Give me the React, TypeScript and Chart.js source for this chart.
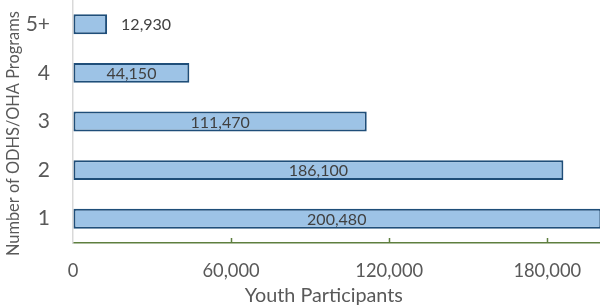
import React, { useEffect, useRef } from "react";
import { Chart, registerables } from "chart.js";

Chart.register(...registerables);

const categories = ["5+", "4", "3", "2", "1"];
const participants = [12930, 44150, 111470, 186100, 200480];
const xTickValues = [0, 60000, 120000, 180000];
const xTitle = "Youth Participants";
const yTitle = "Number of ODHS/OHA Programs";

const FONT = "Lato, 'Open Sans', sans-serif";

const barLabelPlugin = {
  id: "barLabels",
  afterDatasetsDraw(chart: any) {
    const ctx = chart.ctx;
    const meta = chart.getDatasetMeta(0);
    const area = chart.chartArea;
    ctx.save();
    ctx.font = `16px ${FONT}`;
    ctx.fillStyle = "#404040";
    ctx.textBaseline = "middle";
    meta.data.forEach((bar: any, i: number) => {
      const v = participants[i];
      const text = v.toLocaleString("en-US");
      const w = ctx.measureText(text).width;
      const left = bar.base;
      const right = Math.min(bar.x, area.right);
      const width = right - left;
      if (w + 10 < width) {
        ctx.textAlign = "center";
        ctx.fillText(text, (left + right) / 2, bar.y + 1);
      } else {
        ctx.textAlign = "left";
        ctx.fillText(text, right + 14, bar.y + 1);
      }
    });
    ctx.restore();
  },
};

const axisDecorPlugin = {
  id: "axisDecor",
  afterDraw(chart: any) {
    const ctx = chart.ctx;
    const x = chart.scales.x;
    const area = chart.chartArea;
    ctx.save();
    // inner tick marks on x axis
    ctx.strokeStyle = "#5E7F3F";
    ctx.lineWidth = 1.5;
    x.ticks.forEach((t: any) => {
      if (t.value === 0) return;
      const px = Math.round(x.getPixelForValue(t.value)) + 0.5;
      ctx.beginPath();
      ctx.moveTo(px, area.bottom);
      ctx.lineTo(px, area.bottom - 5);
      ctx.stroke();
    });
    // axis titles
    ctx.fillStyle = "#595959";
    ctx.textAlign = "center";
    ctx.textBaseline = "middle";
    ctx.font = `19.8px ${FONT}`;
    ctx.fillText(xTitle, area.left + (area.right - area.left) * 0.476, area.bottom + 53);
    ctx.translate(14, area.top + (area.bottom - area.top) * 0.55);
    ctx.rotate(-Math.PI / 2);
    ctx.font = `16.4px ${FONT}`;
    ctx.fillText(yTitle, 0, 0);
    ctx.restore();
  },
};

export default function App() {
  const ref = useRef<HTMLCanvasElement | null>(null);
  useEffect(() => {
    document.body.style.margin = "0";
    if (!ref.current) return;
    const chart = new Chart(ref.current, {
      type: "bar",
      data: {
        labels: categories,
        datasets: [
          {
            data: participants,
            backgroundColor: "#9DC3E6",
            borderColor: "#1F4E79",
            borderWidth: 2,
            borderSkipped: false,
            barPercentage: 0.41,
            categoryPercentage: 1,
          },
        ],
      },
      options: {
        indexAxis: "y",
        animation: false,
        responsive: false,
        layout: { padding: 0 },
        plugins: {
          legend: { display: false },
          tooltip: { enabled: false },
        },
        scales: {
          x: {
            min: 0,
            max: 200000,
            grid: {
              display: true,
              drawOnChartArea: false,
              drawTicks: true,
              tickLength: 13,
              color: "rgba(0,0,0,0)",
            },
            border: { display: true, color: "#5E7F3F", width: 1.5 },
            afterBuildTicks: (scale: any) => {
              scale.ticks = xTickValues.map((v) => ({ value: v }));
            },
            afterFit: (scale: any) => {
              scale.paddingLeft = 0;
              scale.paddingRight = 0;
              scale.height = 63;
            },
            ticks: {
              padding: 4,
              color: "#595959",
              font: { family: FONT, size: 18.3 },
              callback: (v: any) => Number(v).toLocaleString("en-US"),
            },
            title: { display: false },
          },
          y: {
            grid: {
              display: true,
              drawOnChartArea: false,
              drawTicks: true,
              tickLength: 19,
              color: "rgba(0,0,0,0)",
            },
            border: { display: true, color: "#D9D9D9", width: 1.5 },
            afterFit: (scale: any) => {
              scale.paddingTop = 0;
              scale.paddingBottom = 0;
              scale.width = 73;
            },
            ticks: {
              padding: 4,
              color: "#595959",
              font: { family: FONT, size: 21 },
            },
            title: { display: false },
          },
        },
      },
      plugins: [barLabelPlugin, axisDecorPlugin],
    } as any);
    return () => chart.destroy();
  }, []);
  return (
    <div style={{ width: 600, height: 306 }}>
      <canvas ref={ref} width={600} height={306} />
    </div>
  );
}
